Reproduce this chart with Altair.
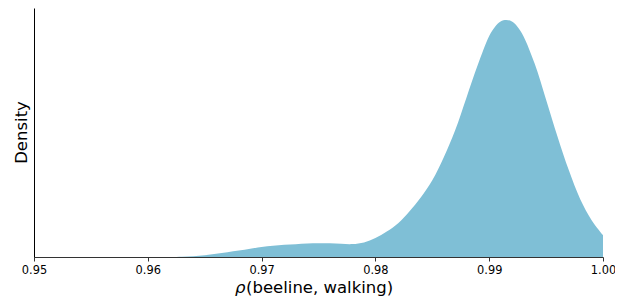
import altair as alt
import pandas as pd

# density curve (x value, density in arbitrary units)
xs = [0.950, 0.955, 0.960, 0.962, 0.963, 0.964, 0.965, 0.966, 0.967, 0.968, 0.969, 0.970,
      0.971, 0.972, 0.973, 0.974, 0.975, 0.976, 0.977, 0.978, 0.979, 0.980,
      0.981, 0.982, 0.983, 0.984, 0.985, 0.986, 0.987, 0.988, 0.989, 0.990,
      0.9905, 0.991, 0.9915, 0.992, 0.9925, 0.993, 0.994, 0.995, 0.996, 0.997,
      0.998, 0.999, 1.000]
dens = [0.0, 0.0, 0.0, 0.0, 0.2, 0.8, 1.8, 3.2, 4.8, 6.5, 8.3, 10.0,
        11.3, 12.2, 12.9, 13.5, 13.8, 13.7, 13.2, 13.0, 14.6, 19.0,
        25.6, 34.0, 46.0, 60.0, 77.0, 100.0, 127.0, 160.0, 193.0, 222.0,
        231.0, 236.5, 238.0, 236.5, 231.0, 222.0, 194.0, 158.0, 121.0, 87.0,
        58.0, 37.0, 22.0]
tick_vals = [0.95, 0.96, 0.97, 0.98, 0.99, 1.00]

df = pd.DataFrame({"x": xs, "d": dens})
FONT = "DejaVu Sans"

area = alt.Chart(df).mark_area(color="#7fbfd6", interpolate="catmull-rom", opacity=1).encode(
    x=alt.X("x:Q",
            scale=alt.Scale(domain=[0.95, 1.0], nice=False, zero=False),
            axis=alt.Axis(values=tick_vals, format=".2f", title=None, grid=False,
                          domainColor="#333333", tickColor="#333333", tickSize=4,
                          labelFont=FONT, labelFontSize=11.4, labelColor="#000000",
                          labelPadding=3, labelFlush=False)),
    y=alt.Y("d:Q",
            scale=alt.Scale(domain=[0, 250], nice=False),
            axis=alt.Axis(title=None, labels=False, ticks=False, grid=False,
                          domainColor="#000000")),
)

rho = alt.Chart(pd.DataFrame({"t": ["ρ"]})).mark_text(
    font=FONT, fontSize=16.5, fontStyle="italic", align="left", baseline="alphabetic",
    color="#000000"
).encode(text="t:N", x=alt.value(201), y=alt.value(284.5))

rest = alt.Chart(pd.DataFrame({"t": ["(beeline, walking)"]})).mark_text(
    font=FONT, fontSize=16.5, align="left", baseline="alphabetic", color="#000000"
).encode(text="t:N", x=alt.value(212), y=alt.value(284.5))

ytitle = alt.Chart(pd.DataFrame({"t": ["Density"]})).mark_text(
    font=FONT, fontSize=16.5, align="center", baseline="middle", angle=270,
    color="#000000"
).encode(text="t:N", x=alt.value(-12.5), y=alt.value(124.5))

chart = alt.layer(area, rho, rest, ytitle).properties(
    width=569, height=249,
    background="white",
    autosize=alt.AutoSizeParams(type="none"),
    padding={"left": 26, "top": 0, "right": 12, "bottom": 42},
).configure_view(stroke=None)

chart.save("out.html", embed_options={"renderer": "svg", "actions": False})
